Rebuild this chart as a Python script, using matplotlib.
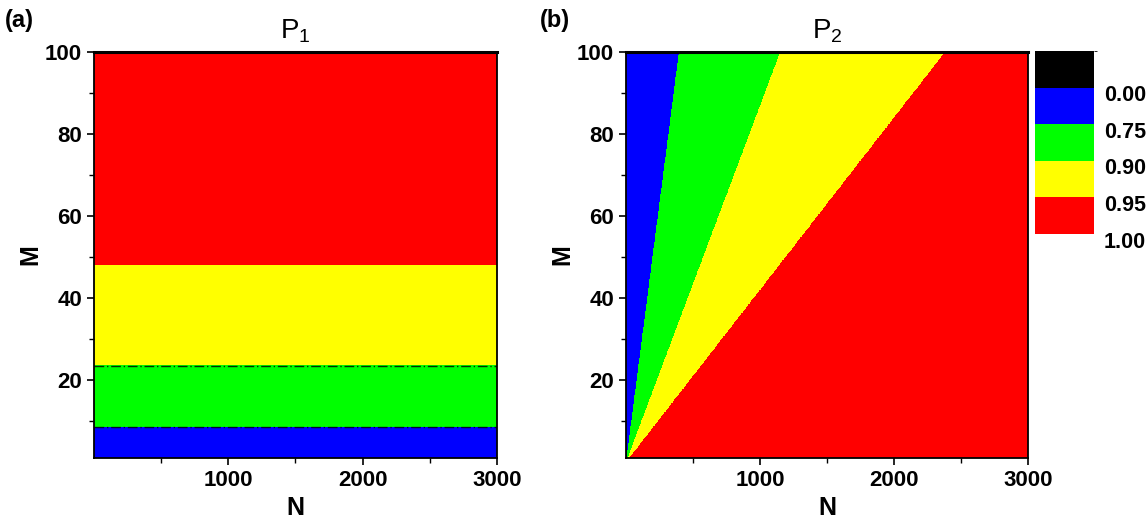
"""Two contour panels P1(N, M) and P2(N, M) with a shared stepped colour bar"""
import numpy as np
import matplotlib
matplotlib.use("Agg")
from matplotlib import pyplot as plt
from matplotlib.colors import ListedColormap, BoundaryNorm
from matplotlib.transforms import ScaledTranslation

plt.rcParams['font.family'] = ['Liberation Sans', 'DejaVu Sans']
plt.rcParams['mathtext.fontset'] = 'custom'
plt.rcParams['mathtext.rm'] = 'Liberation Sans'
plt.rcParams['mathtext.it'] = 'Liberation Sans:italic'

# colour bar levels and colours (top to bottom)
levels = [-0.25, 0.00, 0.75, 0.90, 0.95, 1.00]
tick_levels = [0.00, 0.75, 0.90, 0.95, 1.00]
tick_labels = ['0.00', '0.75', '0.90', '0.95', '1.00']
colors = ['#000000', '#0000ff', '#00ff00', '#ffff00', '#ff0000']
band_value = [0.5, 0.8, 0.93, 0.98]  # blue, green, yellow, red band value

# panel (a): M where P1 crosses 0.75, 0.90, 0.95 (independent of N)
m_cross = [8.6, 23.5, 48.0]
# panel (b): ratio N/M where P2 crosses 0.75, 0.90, 0.95
ratio_cross = [3.95, 11.5, 23.8]

n_range = (0, 3000)
m_range = (1, 100)

# grid
N = np.linspace(n_range[0], n_range[1], 1500)
M = np.linspace(m_range[0], m_range[1], 600)
NN, MM = np.meshgrid(N, M)
P1 = np.array(band_value)[np.digitize(MM, m_cross)]
P2 = np.array(band_value)[np.digitize(NN / MM, ratio_cross)]

cmap = ListedColormap(colors)
norm = BoundaryNorm(levels, cmap.N)

fig = plt.figure(figsize=(11.48, 5.29), dpi=100)
ax1 = fig.add_axes([0.0819, 0.1342, 0.351, 0.7675])
ax2 = fig.add_axes([0.5453, 0.1342, 0.3502, 0.7675])
cax = fig.add_axes([0.9016, 0.5577, 0.0514, 0.346])

for ax, P, title in [(ax1, P1, r'P$_\mathrm{1}$'), (ax2, P2, r'P$_\mathrm{2}$')]:
    mesh = ax.pcolormesh(NN, MM, P, cmap=cmap, norm=norm, shading='auto')
    ax.set_xlim(*n_range)
    ax.set_ylim(*m_range)
    ax.set_xticks([1000, 2000, 3000])
    ax.set_xticks([500, 1500, 2500], minor=True)
    ax.set_yticks([20, 40, 60, 80, 100])
    ax.set_yticks([10, 30, 50, 70, 90], minor=True)
    ax.tick_params(which='major', direction='out', length=5, width=1.2,
                   labelsize=16, top=False, right=False)
    ax.tick_params(which='minor', direction='out', length=3.5, width=1.0,
                   top=False, right=False)
    for lab in ax.get_xticklabels() + ax.get_yticklabels():
        lab.set_fontweight('bold')
    for s in ax.spines.values():
        s.set_linewidth(1.3)
    ax.spines['top'].set_linewidth(2.2)
    ax.set_xlabel('N', fontsize=18, fontweight='bold', labelpad=4)
    ax.set_ylabel('M', fontsize=18, fontweight='bold', labelpad=2)
    ax.set_title(title, fontsize=20, pad=10)

# dash-dot contour artefacts on panel (a)
for m in m_cross[:2]:
    ax1.axhline(m, color='black', lw=1.0, ls=(0, (7, 2, 1, 2)), alpha=0.8)

fig.text(0.004, 1 - 20 / 529, '(a)', fontsize=17, fontweight='bold', va='center')
fig.text(0.470, 1 - 20 / 529, '(b)', fontsize=17, fontweight='bold', va='center')

cb = fig.colorbar(mesh, cax=cax, boundaries=levels, spacing='uniform',
                  ticks=tick_levels)
cb.ax.invert_yaxis()
cb.outline.set_visible(False)
cb.ax.set_yticklabels(tick_labels)
cb.ax.tick_params(length=0, labelsize=15.5, pad=7)
shift = ScaledTranslation(0, -4 / 72, fig.dpi_scale_trans)
for lab in cb.ax.get_yticklabels():
    lab.set_fontweight('bold')
    lab.set_transform(lab.get_transform() + shift)

fig.savefig('out.png', dpi=100)
